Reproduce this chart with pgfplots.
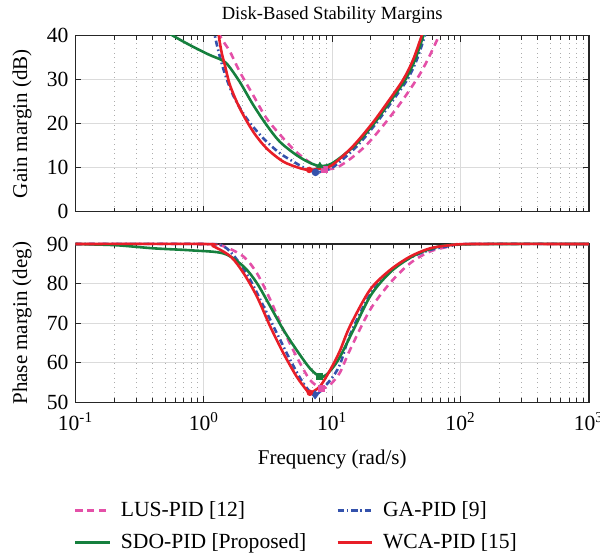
\documentclass[border=0pt]{standalone}
\usepackage{fontspec}
\setmainfont{Liberation Serif}
\usepackage{pgfplots}
\pgfplotsset{compat=1.18}
\definecolor{cPink}{RGB}{228,80,168}
\definecolor{cBlue}{RGB}{52,82,172}
\definecolor{cGreen}{RGB}{22,128,62}
\definecolor{cRed}{RGB}{232,30,40}
\tikzset{
  pinkstyle/.style={cPink, line width=1.3pt, dash pattern=on 3.5pt off 2.5pt},
  bluestyle/.style={cBlue, line width=1.3pt, dash pattern=on 3pt off 1.5pt on 0.8pt off 1.5pt},
  greenstyle/.style={cGreen, line width=1.3pt, solid},
  redstyle/.style={cRed, line width=1.3pt, solid},
}
\begin{document}
\begin{tikzpicture}[x=1pt,y=1pt]
% ---------------- Gain margin ----------------
\begin{axis}[
  scale only axis, width=256.7pt, height=88pt,
  at={(37.75pt,-17.85pt)}, anchor=north west,
  xmode=log, xmin=0.1, xmax=1000,
  xtick={0.1,1,10,100,1000}, xticklabels={},
  ymin=0, ymax=40, ytick={0,10,20,30,40},
  grid=both,
  major grid style={gray!28, line width=0.5pt},
  minor grid style={gray!65, dotted, line width=0.5pt},
  axis line style={black!85, line width=0.75pt},
  tick style={black!85, line width=0.5pt},
  major tick length=3pt, minor tick length=2pt,
  tick align=inside,
  /pgf/number format/assume math mode=true,
  ticklabel style={font=\fontsize{10.8}{12}\selectfont},
  label style={font=\fontsize{10.5}{12}\selectfont},
  ylabel style={at={(axis description cs:-0.104,0.5)}, anchor=center},
  ylabel={Gain margin (dB)},
  title={Disk-Based Stability Margins},
  title style={font=\fontsize{9.3}{11}\selectfont, at={(axis description cs:0.5,1)}, anchor=south, yshift=-3.6pt},
]
\addplot[pinkstyle, smooth] coordinates {
(1.230,43.5) (1.334,40) (1.596,36.4) (1.905,31.8) (2.421,26.5) (3.083,21.2)
(4.150,16.7) (5.248,13.6) (6.607,11.3) (7.586,10.3) (8.770,9.7) (10.81,10.0)
(14.13,12.2) (18.54,15.2) (25.00,19.6) (34.67,25.0) (47.64,31.0) (57.54,35.5)
(69.18,40.5) (75.86,43.5)};
\addplot[bluestyle, smooth] coordinates {
(1.175,45) (1.219,40) (1.413,32.6) (1.690,26.5) (2.153,21.2) (2.904,16.7)
(3.908,13.3) (5.248,11.0) (6.310,9.7) (7.413,8.95) (8.710,9.3) (10.47,10.4)
(15.49,14.8) (21.88,20) (28.84,24.8) (38.46,30) (45.71,34.6) (52.72,40) (58.88,44.5)};
\addplot[greenstyle, smooth] coordinates {
(0.398,43) (0.575,40) (0.822,37.5) (1.114,35.6) (1.371,34.5) (1.545,33.3)
(1.905,29.5) (2.421,24.3) (3.083,19.7) (3.908,15.9) (5.248,12.9) (6.607,11.2)
(8.017,10.4) (10.0,11.0) (14.96,15) (21.13,20) (28.18,25) (37.15,30) (44.16,34.5)
(51.29,40) (57.54,45)};
\addplot[redstyle, smooth] coordinates {
(1.274,45) (1.309,40) (1.380,36) (1.459,33.3) (1.596,28.8) (1.905,23.5)
(2.421,18.2) (3.083,14.4) (4.150,11.4) (5.598,9.9) (6.622,9.5) (7.943,9.8)
(9.886,10.5) (14.42,14.8) (20.42,20) (26.92,24.8) (35.73,30) (42.66,34.5)
(49.77,40) (56.23,45)};
\addplot[only marks, mark=square*, mark size=1.5pt, cPink] coordinates {(8.77,9.7)};
\addplot[only marks, mark=*, mark size=1.7pt, cBlue] coordinates {(7.413,8.95)};
\addplot[only marks, mark=triangle*, mark size=1.8pt, cGreen] coordinates {(8.017,10.4)};
\addplot[only marks, mark=*, mark size=1.4pt, cRed] coordinates {(6.622,9.5)};
\end{axis}
% ---------------- Phase margin ----------------
\begin{axis}[
  scale only axis, width=256.7pt, height=79.15pt,
  at={(37.75pt,-122pt)}, anchor=north west,
  xmode=log, xmin=0.1, xmax=1000,
  xtick={0.1,1,10,100,1000},
  xticklabels={10\textsuperscript{-1},10\textsuperscript{0},10\textsuperscript{1},10\textsuperscript{2},10\textsuperscript{3}},
  xticklabel style={yshift=-1.5pt},
  ymin=50, ymax=90, ytick={50,60,70,80,90},
  clip=false,
  grid=both,
  major grid style={gray!28, line width=0.5pt},
  minor grid style={gray!65, dotted, line width=0.5pt},
  axis line style={black!85, line width=0.75pt},
  tick style={black!85, line width=0.5pt},
  major tick length=3pt, minor tick length=2pt,
  tick align=inside,
  /pgf/number format/assume math mode=true,
  ticklabel style={font=\fontsize{10.8}{12}\selectfont},
  label style={font=\fontsize{10.5}{12}\selectfont},
  ylabel style={at={(axis description cs:-0.104,0.5)}, anchor=center},
  ylabel={Phase margin (deg)},
  xlabel={Frequency (rad/s)},
  xlabel style={at={(axis description cs:0.5,-0.36)}, anchor=center},
  legend style={at={(axis description cs:-0.015,-0.575)}, anchor=north west,
    draw=none, fill=none, font=\fontsize{10.8}{12}\selectfont,
    row sep=3pt,
    /tikz/every odd column/.append style={column sep=3pt},
    /tikz/every even column/.append style={column sep=13pt}},
  legend columns=2, legend cell align=left,
]
\addplot[pinkstyle, smooth] coordinates {
(0.1,90) (1.0,90) (1.429,89.4) (2.042,86.8) (2.594,82.6) (3.296,75.9) (4.169,68.3)
(5.284,61.5) (6.699,55.7) (8.260,53.6) (9.594,54.4) (11.48,57.5) (13.74,63.2)
(19.68,73.3) (28.18,80.1) (40.36,85.1) (57.81,88.1) (82.79,89.4) (107.2,90) (1000,90)};
\addlegendentry{LUS-PID [12]}
\addplot[bluestyle, smooth] coordinates {
(0.1,90) (1.0,90) (1.429,89.4) (1.816,86) (2.301,80.9) (2.924,74.2) (3.715,67.4)
(4.710,60.7) (5.970,54.8) (7.362,51.9) (9.594,55.5) (11.48,59.5) (13.74,67)
(19.68,77.2) (28.18,83) (40.36,86.5) (57.81,88.5) (82.79,89.5) (125.9,90) (1000,90)};
\addlegendentry{GA-PID [9]}
\addplot[greenstyle, smooth] coordinates {
(0.1,90) (0.2056,89.7) (0.409,88.9) (0.794,88.4) (1.429,87.6) (2.042,84.3)
(2.594,80.1) (3.296,74.2) (4.169,68.3) (5.284,63.2) (6.699,58.6) (8.017,56.5)
(9.036,57) (11.09,60.6) (14.59,68.2) (19.95,77) (28.18,82.8) (40.36,86.5)
(57.81,88.7) (100,89.9) (1000,90)};
\addlegendentry{SDO-PID [Proposed]}
\addplot[redstyle, smooth] coordinates {
(0.1,90) (1.0,90) (1.175,89.5) (1.622,86.8) (2.042,82.6) (2.594,76.7) (3.296,69.1)
(4.169,62.4) (5.284,56.5) (6.310,53.1) (6.699,52.4) (8.017,54) (9.772,58.5)
(11.48,63) (13.74,69.2) (19.68,78.4) (28.18,83.4) (40.36,86.8) (57.81,88.9)
(82.79,89.7) (125.9,90) (1000,90)};
\addlegendentry{WCA-PID [15]}
\addplot[only marks, mark=square*, mark size=1.5pt, cPink, forget plot] coordinates {(8.26,53.6)};
\addplot[only marks, mark=diamond*, mark size=2pt, cBlue, forget plot] coordinates {(7.362,51.9)};
\addplot[only marks, mark=square*, mark size=1.5pt, cGreen, forget plot] coordinates {(8.017,56.5)};
\addplot[only marks, mark=*, mark size=1.4pt, cRed, forget plot] coordinates {(6.699,52.4)};
\end{axis}
\pgfresetboundingbox
\useasboundingbox (0pt,0pt) rectangle (300pt,-276pt);
\end{tikzpicture}
\end{document}
